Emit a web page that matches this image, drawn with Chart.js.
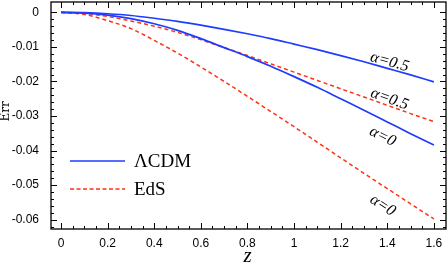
<!DOCTYPE html>
<html>
<head>
<meta charset="utf-8">
<script src="https://cdn.jsdelivr.net/npm/chart.js@4"></script>
<style>
  body { margin: 0; background: #fff; }
  canvas { display: block; }
</style>
</head>
<body>
<canvas id="chart" width="447" height="263"></canvas>
<script>
// redshift samples
const zValues = [0, 0.1, 0.2, 0.3, 0.4, 0.5, 0.6, 0.7, 0.8, 0.9, 1.0, 1.1, 1.2, 1.3, 1.4, 1.5, 1.6];

// Err
const lcdmAlpha05 = [0, -0.0001, -0.0004, -0.0009, -0.0017, -0.0026, -0.0037, -0.0049, -0.0062, -0.0076, -0.0092, -0.0108, -0.0125, -0.0143, -0.0162, -0.0181, -0.0201];
const lcdmAlpha0 = [0, -0.0002, -0.0008, -0.0018, -0.0033, -0.0052, -0.0076, -0.0102, -0.0128, -0.0156, -0.0186, -0.0217, -0.0250, -0.0283, -0.0317, -0.0351, -0.0384];
const edsAlpha05 = [0, -0.0003, -0.0012, -0.0025, -0.0040, -0.0058, -0.0079, -0.0102, -0.0125, -0.0149, -0.0173, -0.0197, -0.0221, -0.0245, -0.0269, -0.0293, -0.0316];
const edsAlpha0 = [0, -0.0006, -0.0024, -0.0047, -0.0081, -0.0118, -0.0158, -0.0200, -0.0243, -0.0287, -0.0331, -0.0376, -0.0421, -0.0466, -0.0510, -0.0554, -0.0598];

const xTicks = [0, 0.2, 0.4, 0.6, 0.8, 1, 1.2, 1.4, 1.6];
const yTicks = [0, -0.01, -0.02, -0.03, -0.04, -0.05, -0.06];
const curveLabels = ['α=0.5', 'α=0', 'α=0.5', 'α=0'];

const BLUE = 'rgb(30,60,255)';
const RED = 'rgb(255,50,20)';

const pts = arr => zValues.map((z, i) => ({ x: z, y: arr[i] }));

const lineStyle = (color, dashed) => ({
    borderColor: color,
    backgroundColor: color,
    borderWidth: dashed ? 1.5 : 1.7,
    borderDash: dashed ? [4, 3] : [],
    pointRadius: 0,
    fill: false,
    cubicInterpolationMode: 'monotone',
});

// frame with inward ticks on all four sides, axis titles, legend, curve labels
const decorPlugin = {
    id: 'decor',
    afterDraw(chart) {
        const { ctx, chartArea: a, scales: { x, y } } = chart;
        ctx.save();
        ctx.strokeStyle = '#000';
        ctx.lineWidth = 1.3;
        ctx.strokeRect(a.left, a.top, a.right - a.left, a.bottom - a.top);

        ctx.lineWidth = 1;
        ctx.beginPath();
        for (let k = 0; k <= 33; k++) {
            const v = k * 0.05;
            const px = Math.round(x.getPixelForValue(v)) + 0.5;
            if (px < a.left || px > a.right) continue;
            const len = k % 4 === 0 ? 6 : 3;
            ctx.moveTo(px, a.bottom); ctx.lineTo(px, a.bottom - len);
            ctx.moveTo(px, a.top); ctx.lineTo(px, a.top + len);
        }
        for (let k = 0; k >= -31; k--) {
            const v = k * 0.002;
            const py = Math.round(y.getPixelForValue(v)) + 0.5;
            if (py < a.top || py > a.bottom) continue;
            const len = k % 5 === 0 ? 6 : 3;
            ctx.moveTo(a.left, py); ctx.lineTo(a.left + len, py);
            ctx.moveTo(a.right, py); ctx.lineTo(a.right - len, py);
        }
        ctx.stroke();

        // axis titles
        ctx.fillStyle = '#000';
        ctx.textAlign = 'center';
        ctx.textBaseline = 'middle';
        ctx.font = 'italic 21px "Liberation Serif"';
        ctx.fillText('z', (a.left + a.right) / 2 - 1, 256);
        ctx.save();
        ctx.translate(5.5, (a.top + a.bottom) / 2 - 4);
        ctx.rotate(-Math.PI / 2);
        ctx.font = '12px "DejaVu Serif"';
        ctx.fillText('Err', 0, 0);
        ctx.restore();

        // legend
        const legend = [['ΛCDM', BLUE, false, 161], ['EdS', RED, true, 189]];
        legend.forEach(([txt, col, dashed, ly]) => {
            ctx.strokeStyle = col;
            ctx.lineWidth = dashed ? 1.4 : 1.7;
            ctx.setLineDash(dashed ? [4, 2.5] : []);
            ctx.beginPath();
            ctx.moveTo(70, ly); ctx.lineTo(125, ly);
            ctx.stroke();
            ctx.setLineDash([]);
            ctx.fillStyle = '#000';
            ctx.textAlign = 'left';
            ctx.font = '19px "Liberation Serif"';
            ctx.fillText(txt, 134, ly + 1);
        });

        // curve labels, rotated along each curve
        const place = [[0, 1.41, -7], [1, 1.38, 17], [2, 1.41, -7], [3, 1.38, 20]];
        ctx.font = 'italic 16px "Liberation Serif"';
        ctx.textAlign = 'center';
        ctx.fillStyle = '#000';
        place.forEach(([di, zAt, dy]) => {
            const d = chart.data.datasets[di].data;
            const yAt = zz => {
                let i = zValues.findIndex(v => v >= zz);
                if (i <= 0) i = 1;
                const t = (zz - zValues[i - 1]) / (zValues[i] - zValues[i - 1]);
                return d[i - 1].y + t * (d[i].y - d[i - 1].y);
            };
            const px = x.getPixelForValue(zAt);
            const py = y.getPixelForValue(yAt(zAt));
            const ang = Math.atan2(y.getPixelForValue(yAt(zAt + 0.05)) - y.getPixelForValue(yAt(zAt - 0.05)),
                x.getPixelForValue(zAt + 0.05) - x.getPixelForValue(zAt - 0.05));
            ctx.save();
            ctx.translate(px, py + dy);
            ctx.rotate(ang);
            ctx.fillText(curveLabels[di], 0, 0);
            ctx.restore();
        });
        ctx.restore();
    }
};

const tickFont = { family: '"Liberation Sans", Arial, sans-serif', size: 12 };

const config = {
    type: 'line',
    data: {
        datasets: [
            { label: 'ΛCDM α=0.5', data: pts(lcdmAlpha05), ...lineStyle(BLUE, false) },
            { label: 'ΛCDM α=0', data: pts(lcdmAlpha0), ...lineStyle(BLUE, false) },
            { label: 'EdS α=0.5', data: pts(edsAlpha05), ...lineStyle(RED, true) },
            { label: 'EdS α=0', data: pts(edsAlpha0), ...lineStyle(RED, true) },
        ]
    },
    options: {
        responsive: false,
        animation: false,
        layout: { padding: { left: 0, right: 1, top: 2, bottom: 0 } },
        scales: {
            x: {
                type: 'linear',
                min: -0.043,
                max: 1.652,
                afterBuildTicks: s => { s.ticks = xTicks.map(v => ({ value: v })); },
                afterFit: s => { s.height = 34; s.paddingLeft = 0; s.paddingRight = 0; },
                grid: { display: false },
                border: { display: false },
                ticks: {
                    font: tickFont,
                    color: '#000',
                    padding: -1,
                    maxRotation: 0,
                    autoSkip: false,
                    callback: v => v === 0 ? '0' : (Math.abs(v - 1) < 1e-9 ? '1' : v.toFixed(1)),
                },
            },
            y: {
                type: 'linear',
                min: -0.0627,
                max: 0.003,
                afterBuildTicks: s => { s.ticks = yTicks.map(v => ({ value: v })); },
                afterFit: s => { s.width = 51; s.paddingTop = 0; s.paddingBottom = 0; },
                grid: { display: false },
                border: { display: false },
                ticks: {
                    font: tickFont,
                    color: '#000',
                    padding: 4,
                    autoSkip: false,
                    callback: v => v === 0 ? '0' : v.toFixed(2),
                },
            },
        },
        plugins: {
            legend: { display: false },
            tooltip: { enabled: false },
        },
    },
    plugins: [decorPlugin],
};

const ctx = document.getElementById('chart').getContext('2d');
const chart = new Chart(ctx, config);
</script>
</body>
</html>
